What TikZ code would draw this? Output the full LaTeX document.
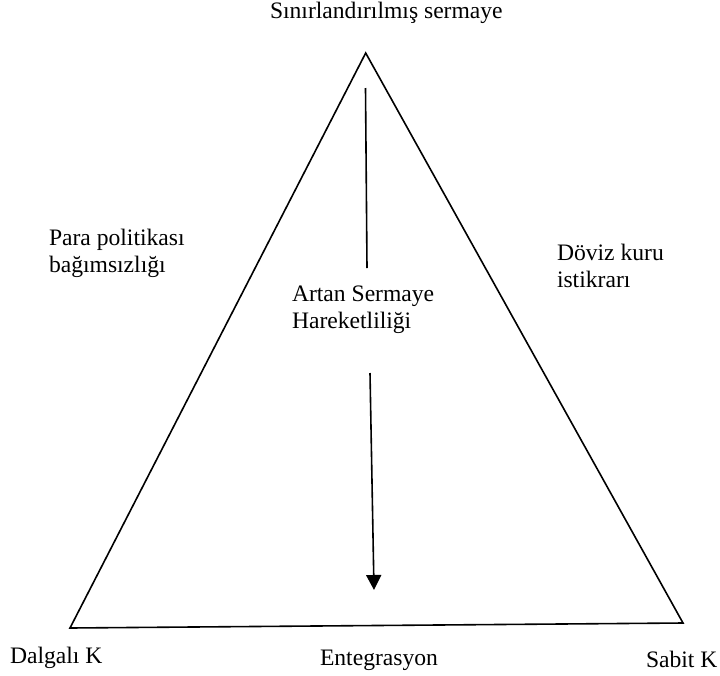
\documentclass[tikz,border=0pt]{standalone}
\usepackage{fontspec}
\setmainfont{Liberation Serif}
\usetikzlibrary{arrows.meta}
\begin{document}
\begin{tikzpicture}[x=1pt,y=-1pt,
  lbl/.style={inner sep=0pt,outer sep=0pt,anchor=base west,align=left,
    font=\fontsize{23.6}{27}\selectfont},
  edge/.style={line width=1.6pt,line join=miter},
  shaft/.style={line width=1.6pt}]
\useasboundingbox (0,0) rectangle (720,675);
\coordinate (A) at (365.7,53);
\coordinate (L) at (70,628);
\coordinate (R) at (683,623);
\draw[edge] (A) -- (R) -- (L) -- cycle;
\coordinate (s1) at (365.5,88);
\coordinate (s2) at (367,268);
\draw[shaft] (s1) -- (s2);
\coordinate (t1) at (370,373);
\coordinate (t2) at (374,590);
\draw[shaft,-{Triangle[length=15pt,width=15pt]}] (t1) -- (t2);
\node[lbl] (top) at (270,18) {Sınırlandırılmış sermaye};
\node[lbl] (para) at (49,272) {Para politikası\\bağımsızlığı};
\node[lbl] (doviz) at (557,287) {Döviz kuru\\istikrarı};
\node[lbl] (artan) at (292,328) {Artan Sermaye\\Hareketliliği};
\node[lbl] (dal) at (10,663) {Dalgalı K};
\node[lbl] (ent) at (320,665) {Entegrasyon};
\node[lbl] (sab) at (646,667) {Sabit K};
\end{tikzpicture}
\end{document}
